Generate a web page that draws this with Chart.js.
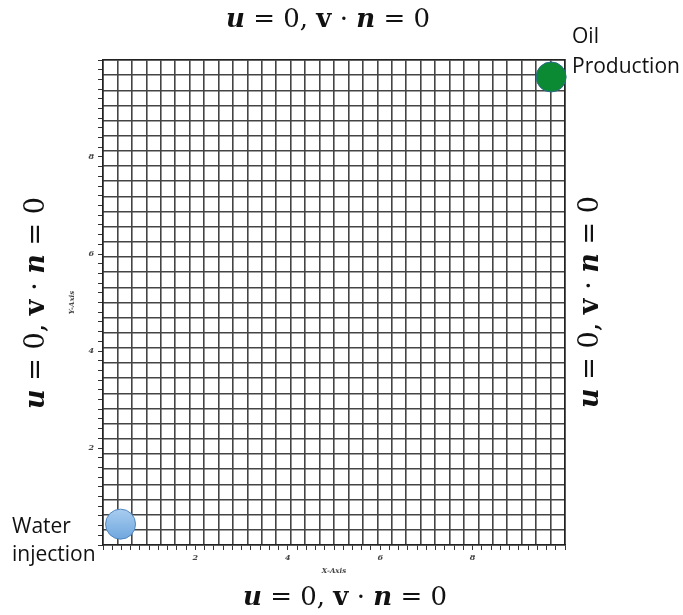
<!DOCTYPE html>
<html>
<head>
<meta charset="utf-8">
<script src="https://cdn.jsdelivr.net/npm/chart.js@4.4.0/dist/chart.umd.min.js"></script>
<style>
html, body { margin: 0; padding: 0; background: #fff; }
#wrap { position: relative; width: 683px; height: 615px; }
</style>
</head>
<body>
<div id="wrap"><canvas id="chart" width="683" height="615"></canvas></div>
<script>
// wells
const wellNames = ["Water injection", "Oil Production"];
const wellX = [0.38, 9.7];
const wellY = [0.43, 9.65];
const wellColors = ["#6fa7de", "#0b8a33"];
const wellBorders = ["#4f86c0", "#2a6a8a"];

// domain + grid
const axisMin = 0;
const axisMax = 10;
const gridCells = 32;
const minorStep = 0.2;
const tickLabels = [2, 4, 6, 8];

// boundary condition text, split by font style
const bcParts = [
    ["u", "bold italic"],
    [" = 0, ", ""],
    ["v", "bold"],
    [" \u00b7 ", ""],
    ["n", "bold italic"],
    [" = 0", ""]
];

function tickText(v) {
    const r = Math.round(v);
    if (Math.abs(v - r) < 1e-6 && tickLabels.includes(r)) return String(r);
    return "";
}

function drawBC(ctx, cx, cy, angle, size) {
    ctx.save();
    ctx.translate(cx, cy);
    ctx.rotate(angle);
    ctx.textBaseline = "middle";
    ctx.textAlign = "left";
    ctx.fillStyle = "#111";
    let total = 0;
    const widths = bcParts.map(p => {
        ctx.font = p[1] + " " + size + "px 'DejaVu Serif'";
        const w = ctx.measureText(p[0]).width;
        total += w;
        return w;
    });
    let x = -total / 2;
    bcParts.forEach((p, i) => {
        ctx.font = p[1] + " " + size + "px 'DejaVu Serif'";
        ctx.fillText(p[0], x, 0);
        x += widths[i];
    });
    ctx.restore();
}

const textPlugin = {
    id: "texts",
    afterDraw(chart) {
        const ctx = chart.ctx;
        drawBC(ctx, 328, 20, 0, 26);
        drawBC(ctx, 345, 598, 0, 26);
        drawBC(ctx, 37, 303, -Math.PI / 2, 27);
        drawBC(ctx, 591, 302, -Math.PI / 2, 27);

        ctx.save();
        ctx.fillStyle = "#111";
        ctx.textAlign = "left";
        ctx.textBaseline = "middle";
        ctx.font = "21px 'Open Sans'";
        ctx.fillText("Oil", 572, 37);
        ctx.fillText("Production", 572, 67);
        ctx.fillText("Water", 12, 527);
        ctx.fillText("injection", 12, 555);
        ctx.restore();
    }
};

function wellFill(i) {
    return ctx => {
        const chart = ctx.chart;
        if (!chart.chartArea || i !== 0) return wellColors[i];
        const yTop = chart.scales.y.getPixelForValue(wellY[i]) - 15;
        const g = chart.ctx.createLinearGradient(0, yTop, 0, yTop + 30);
        g.addColorStop(0, "#a9cdf0");
        g.addColorStop(1, wellColors[i]);
        return g;
    };
}

const tickFont = { family: "DejaVu Serif", size: 8, style: "italic", weight: "bold" };

new Chart(document.getElementById("chart"), {
    type: "scatter",
    data: {
        datasets: wellNames.map((name, i) => ({
            label: name,
            data: [{ x: wellX[i], y: wellY[i] }],
            pointRadius: 15,
            pointBackgroundColor: wellFill(i),
            pointBorderColor: wellBorders[i],
            pointBorderWidth: 1,
            clip: false
        }))
    },
    options: {
        responsive: false,
        animation: false,
        layout: { padding: { left: 68, right: 118, top: 60, bottom: 40 } },
        plugins: {
            legend: { display: false },
            tooltip: { enabled: false }
        },
        scales: {
            x: {
                type: "linear",
                position: "bottom",
                min: axisMin,
                max: axisMax,
                ticks: {
                    stepSize: minorStep,
                    autoSkip: false,
                    maxRotation: 0,
                    padding: 3,
                    font: tickFont,
                    color: "#444",
                    callback: v => tickText(v)
                },
                grid: { drawOnChartArea: false, tickLength: 5, color: "#333", tickColor: "#333" },
                border: { color: "#222", width: 1.5 },
                title: { display: true, text: "X-Axis", font: { ...tickFont, size: 7 }, color: "#444", padding: { top: 0, bottom: 0 } },
                afterFit: s => { s.height = 30; }
            },
            xGrid: {
                type: "linear",
                position: "top",
                min: axisMin,
                max: axisMax,
                ticks: { display: false, stepSize: (axisMax - axisMin) / gridCells, autoSkip: false },
                grid: { drawTicks: false, color: "#444", lineWidth: 1.6 },
                border: { color: "#222", width: 1.5 },
                afterFit: s => { s.height = 0; }
            },
            y: {
                type: "linear",
                position: "left",
                min: axisMin,
                max: axisMax,
                ticks: {
                    stepSize: minorStep,
                    autoSkip: false,
                    padding: 4,
                    font: tickFont,
                    color: "#444",
                    callback: v => tickText(v)
                },
                grid: { drawOnChartArea: false, tickLength: 5, color: "#333", tickColor: "#333" },
                border: { color: "#222", width: 1.5 },
                title: { display: true, text: "Y-Axis", font: { ...tickFont, size: 7 }, color: "#444", padding: { top: 0, bottom: 4 } },
                afterFit: s => { s.width = 35; }
            },
            yGrid: {
                type: "linear",
                position: "right",
                min: axisMin,
                max: axisMax,
                ticks: { display: false, stepSize: (axisMax - axisMin) / gridCells, autoSkip: false },
                grid: { drawTicks: false, color: "#444", lineWidth: 1.6 },
                border: { color: "#222", width: 1.5 },
                afterFit: s => { s.width = 0; }
            }
        }
    },
    plugins: [textPlugin]
});
</script>
</body>
</html>
